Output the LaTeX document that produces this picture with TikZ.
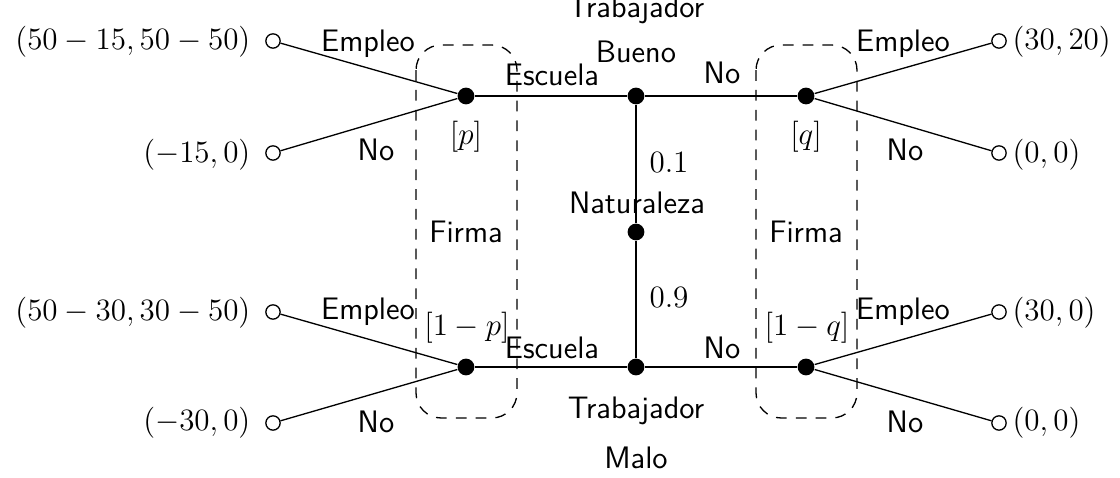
\documentclass[tikz,border=0pt]{standalone}
\usepackage{fix-cm}
\begin{document}
\begin{tikzpicture}[x=0.0147059cm,y=-0.0147059cm,line width=0.55pt,
  every node/.style={font=\fontsize{13}{16}\selectfont},
  dec/.style={circle,fill=black,inner sep=0pt,minimum size=7pt},
  term/.style={circle,draw,fill=white,inner sep=0pt,minimum size=6pt},
  lbl/.style={font=\fontsize{13}{16}\selectfont\sffamily,inner sep=0pt},
  mth/.style={inner sep=0pt},
  infoset/.style={dash pattern=on 4.5pt off 3.8pt,rounded corners=0.37cm}]
\useasboundingbox (0,0) rectangle (1120,478);
% decision nodes
\node[dec] (A) at (466,96) {};
\node[dec] (B) at (636,96) {};
\node[dec] (C) at (806,96) {};
\node[dec] (N) at (636,232) {};
\node[dec] (D) at (466,367) {};
\node[dec] (E) at (636,367) {};
\node[dec] (F) at (806,367) {};
% terminal nodes
\node[term] (t1) at (273,41) {};
\node[term] (t2) at (273,153) {};
\node[term] (t3) at (273,312) {};
\node[term] (t4) at (273,423) {};
\node[term] (t5) at (999,41) {};
\node[term] (t6) at (999,153) {};
\node[term] (t7) at (999,312) {};
\node[term] (t8) at (999,423) {};
% edges
\draw (t1) -- (A) -- (t2);
\draw (t3) -- (D) -- (t4);
\draw (t5) -- (C) -- (t6);
\draw (t7) -- (F) -- (t8);
\draw (A) -- (B) -- (C);
\draw (D) -- (E) -- (F);
\draw (B) -- (N) -- (E);
% information sets
\draw[infoset] (416,45) rectangle (517,418);
\draw[infoset] (756,45) rectangle (857,418);
% payoffs
\node[mth,anchor=east] (p1) at (251,42) {$(50-15,50-50)$};
\node[mth,anchor=east] (p2) at (251,155) {$(-15,0)$};
\node[mth,anchor=east] (p3) at (251,313) {$(50-30,30-50)$};
\node[mth,anchor=east] (p4) at (251,423) {$(-30,0)$};
\node[mth,anchor=west] (p5) at (1012,42) {$(30,20)$};
\node[mth,anchor=west] (p6) at (1012,155) {$(0,0)$};
\node[mth,anchor=west] (p7) at (1012,313) {$(30,0)$};
\node[mth,anchor=west] (p8) at (1012,423) {$(0,0)$};
% action labels
\node[lbl] (l1) at (368,44) {Empleo};
\node[lbl] (l2) at (376,150) {No};
\node[lbl] (l3) at (368,312) {Empleo};
\node[lbl] (l4) at (376,422) {No};
\node[lbl] (l5) at (903,44) {Empleo};
\node[lbl] (l6) at (905,150) {No};
\node[lbl] (l7) at (903,312) {Empleo};
\node[lbl] (l8) at (905,422) {No};
\node[lbl] (l9) at (552,75) {Escuela};
\node[lbl] (l10) at (552,348) {Escuela};
\node[lbl] (l11) at (722,73) {No};
\node[lbl] (l12) at (722,348) {No};
% player / nature labels
\node[lbl] (w1) at (636,10) {Trabajador};
\node[lbl] (w2) at (636,52) {Bueno};
\node[lbl] (w3) at (636,411) {Trabajador};
\node[lbl] (w4) at (636,458) {Malo};
\node[lbl] (nat) at (637,203) {Naturaleza};
\node[mth] (pr1) at (669,162) {$0.1$};
\node[mth] (pr2) at (669,297) {$0.9$};
\node[lbl] (f1) at (466,232) {Firma};
\node[lbl] (f2) at (806,232) {Firma};
% beliefs
\node[mth] (b1) at (466,137) {$[p]$};
\node[mth] (b2) at (806,137) {$[q]$};
\node[mth] (b3) at (467,328) {$[1-p]$};
\node[mth] (b4) at (807,328) {$[1-q]$};
\end{tikzpicture}
\end{document}
